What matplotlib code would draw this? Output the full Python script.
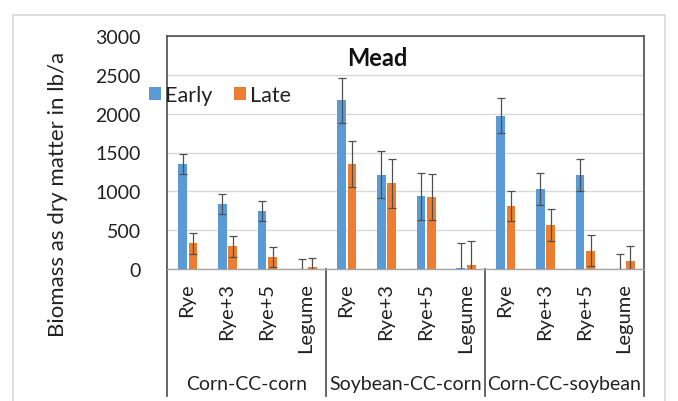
import matplotlib
matplotlib.use("Agg")
import matplotlib.pyplot as plt
from matplotlib.lines import Line2D
from matplotlib.patches import Rectangle
import numpy as np

plt.rcParams['font.family'] = ['Lato', 'DejaVu Sans']

groups = ["Corn-CC-corn", "Soybean-CC-corn", "Corn-CC-soybean"]
treatments = ["Rye", "Rye+3", "Rye+5", "Legume"]
early = [1350, 840, 750, 0, 2175, 1215, 935, 15, 1975, 1035, 1210, 0]
early_err = [130, 130, 130, 130, 290, 305, 305, 320, 225, 205, 210, 195]
late = [330, 290, 155, 20, 1350, 1105, 925, 55, 815, 565, 235, 100]
late_err = [135, 130, 125, 120, 295, 315, 300, 300, 195, 210, 200, 200]
title = "Mead"
ylabel = "Biomass as dry matter in lb/a"
yticks = [0, 500, 1000, 1500, 2000, 2500, 3000]

W, H = 678, 402
fig = plt.figure(figsize=(W / 100, H / 100), dpi=100)
fig.patch.set_facecolor("white")

# outer chart-area border
fig.patches.append(Rectangle((13 / W, -0.05), (665 - 13) / W, (H - 16) / H + 0.05,
                             transform=fig.transFigure, fill=False,
                             edgecolor="#D9D9D9", linewidth=1.2))

left, right, top, bottom = 167, 644, 37, 270
ax = fig.add_axes([left / W, 1 - bottom / H, (right - left) / W, (bottom - top) / H])

n = len(early)
x = np.arange(n)
bw = 0.22
blue = "#5B9BD5"
orange = "#ED7D31"
ekw = dict(ecolor="#505050", elinewidth=0.9, capsize=3, capthick=0.9)
b1 = ax.bar(x - 0.11, early, bw, color=blue, label="Early", yerr=early_err,
            error_kw=ekw, zorder=3)
b2 = ax.bar(x + 0.155, late, bw, color=orange, label="Late", yerr=late_err,
            error_kw=ekw, zorder=3)

ax.set_xlim(-0.5, n - 0.5)
ax.set_ylim(0, 3000)
ax.set_yticks(yticks)
ax.set_yticklabels([str(v) for v in yticks], fontsize=14, color="#222222")
ax.tick_params(axis="y", length=0, pad=19)
ax.set_xticks([])
ax.yaxis.grid(True, color="#D9D9D9", linewidth=1)
ax.set_axisbelow(True)

for s in ["left", "top", "right"]:
    ax.spines[s].set_color("#595959")
    ax.spines[s].set_linewidth(1.3)
ax.spines["bottom"].set_color("#A6A6A6")
ax.spines["bottom"].set_linewidth(1.0)

# y label
fig.text(58 / W, 1 - 194 / H, ylabel, rotation=90, ha="center", va="center",
         fontsize=16, color="#222222")

# title
ax.text(0.441, 1 - 21 / (bottom - top), title, transform=ax.transAxes,
        ha="center", va="center", fontsize=17, fontweight="bold", color="#111111")

# category labels
trans = ax.get_xaxis_transform()
ax_h = bottom - top
for i in range(n):
    ax.text(x[i], -13 / ax_h, treatments[i % 4], transform=trans, rotation=90,
            ha="center", va="top", fontsize=14.5, color="#222222", clip_on=False)
for g, name in enumerate(groups):
    ax.text(4 * g + 1.5, -115 / ax_h, name, transform=trans, ha="center",
            va="center", fontsize=14, color="#222222", clip_on=False)

# separators
for xs in [-0.5, 3.5, 7.5, 11.5]:
    col = "#595959"
    ax.add_line(Line2D([xs, xs], [0, -127 / ax_h], transform=trans, color=col,
                       linewidth=1.3, clip_on=False))

# legend
leg = fig.legend(handles=[b1, b2], labels=["Early", "Late"], loc="center left",
                 bbox_to_anchor=(149 / W, 1 - 96 / H), ncol=2, frameon=False,
                 fontsize=15.5, handlelength=0.55, handleheight=0.6,
                 handletextpad=0.2, columnspacing=1.0, borderpad=0,
                 borderaxespad=0)
for t in leg.get_texts():
    t.set_color("#222222")

fig.savefig("out.png", dpi=100)
